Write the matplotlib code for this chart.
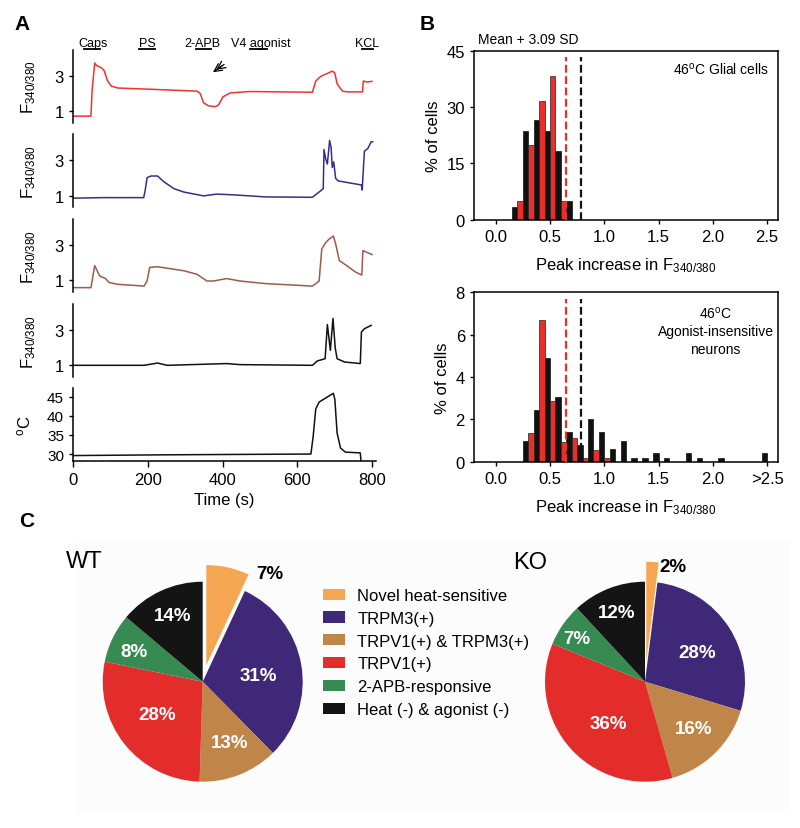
import matplotlib
matplotlib.use("Agg")
import matplotlib.pyplot as plt
from matplotlib.patches import Patch, Rectangle
import numpy as np

plt.rcParams['font.family'] = ['Liberation Sans', 'DejaVu Sans']
plt.rcParams['mathtext.default'] = 'regular'
plt.rcParams['axes.linewidth'] = 1.1

# ---- Panel A: example traces (time in s, value)
red_t = [1, 48, 51, 58, 63, 76, 83, 92, 102, 120, 208, 332, 340, 349, 362, 380, 389, 401, 420, 473,
         640, 649, 662, 684, 693, 700, 706, 720, 733, 774, 776, 786, 799]
red_f = [0.72, 0.72, 2.2, 3.74, 3.60, 3.47, 3.32, 2.75, 2.43, 2.32, 2.25, 2.14, 2.01, 1.48, 1.31, 1.26,
         1.35, 1.82, 2.04, 2.12, 2.08, 2.72, 2.98, 3.19, 3.28, 3.17, 2.56, 2.15, 2.10, 2.10, 2.72, 2.66, 2.70]

blue_t = [1, 76, 189, 193, 198, 208, 226, 243, 270, 296, 349, 384, 428, 516, 640, 658, 669, 671, 676,
          680, 686, 690, 693, 697, 702, 709, 720, 771, 773, 779, 788, 797, 801]
blue_f = [0.85, 0.88, 0.88, 1.3, 2.01, 2.11, 2.11, 1.78, 1.39, 1.20, 0.98, 1.08, 1.04, 0.92, 0.90, 1.20,
          1.39, 3.62, 3.04, 2.79, 4.14, 3.71, 2.60, 2.91, 1.98, 1.83, 1.79, 1.60, 1.31, 3.52, 3.67, 4.06, 4.06]

brown_t = [1, 48, 58, 71, 80, 86, 97, 120, 190, 198, 205, 226, 296, 331, 358, 375, 411, 446, 516, 640,
           658, 665, 675, 684, 696, 702, 712, 732, 754, 772, 775, 785, 799]
brown_f = [0.58, 0.58, 1.84, 1.26, 1.16, 1.12, 0.87, 0.77, 0.67, 0.96, 1.74, 1.78, 1.55, 1.35, 0.96, 0.96,
           1.10, 0.96, 0.81, 0.67, 0.96, 2.80, 3.15, 3.35, 3.54, 3.10, 2.13, 1.84, 1.49, 1.30, 2.71, 2.61, 2.48]

black_t = [1, 190, 226, 252, 411, 446, 640, 653, 674, 680, 688, 695, 701, 706, 726, 768, 771, 779, 797]
black_f = [1.0, 1.0, 1.13, 1.0, 1.10, 1.04, 1.0, 1.25, 1.38, 3.34, 1.86, 3.69, 2.0, 1.38, 1.19, 1.10,
           2.91, 3.10, 3.29]

temp_t = [1, 252, 636, 642, 649, 658, 696, 700, 706, 715, 728, 768, 771]
temp_c = [29.6, 29.8, 30.0, 34.6, 41.8, 43.6, 45.9, 44.3, 35.5, 31.6, 30.5, 30.3, 27.0]

stim_names = ["Caps", "PS", "2-APB", "V4 agonist", "KCL"]
stim_start = [30, 176, 328, 474, 773]
stim_end = [72, 220, 368, 518, 802]
stim_text_x = [53, 198, 346, 503, 785]

# ---- Panel B: histograms (% of cells), bin centres
glia_bins = [0.2, 0.3, 0.4, 0.5, 0.6, 0.7]
glia_black = [3.3, 23.5, 26.5, 23.5, 18.3, 5.0]
glia_red = [5.0, 20.0, 31.7, 38.3, 5.0, 0.0]

neur_bins = [0.3, 0.4, 0.5, 0.6, 0.7, 0.8, 0.9, 1.0, 1.1, 1.2, 1.3, 1.4, 1.5, 1.6, 1.7, 1.8, 1.9, 2.0,
             2.1, 2.2, 2.3, 2.4, 2.5]
neur_black = [1.0, 2.44, 4.88, 3.07, 1.42, 0.79, 2.02, 1.42, 0.6, 1.0, 0.19, 0.19, 0.41, 0.19, 0, 0.41,
              0.19, 0, 0.19, 0, 0, 0, 0.41]
neur_red = [1.34, 6.69, 2.85, 0.94, 1.12, 0.16, 0.57, 0.16, 0, 0, 0, 0, 0, 0, 0, 0, 0, 0, 0, 0, 0, 0, 0]
thr_red = 0.65
thr_black = 0.79

# ---- Panel C: pies
cat_labels = ["Novel heat-sensitive", "TRPM3(+)", "TRPV1(+) & TRPM3(+)", "TRPV1(+)",
              "2-APB-responsive", "Heat (-) & agonist (-)"]
wt_pct = [7, 31, 13, 28, 8, 14]
ko_pct = [2, 28, 16, 36, 7, 12]
pie_colors = ["#F5A653", "#3F2877", "#BF8549", "#E32D2A", "#378A52", "#141414"]

W, H = 800, 829
fig = plt.figure(figsize=(W / 100, H / 100), dpi=100)


def px_axes(left, top, right, bottom):
    return fig.add_axes([left / W, 1 - bottom / H, (right - left) / W, (bottom - top) / H])


# light background of panel C
fig.patches.append(Rectangle((75 / W, 1 - 815 / H), 715 / W, 275 / H, transform=fig.transFigure,
                             facecolor="#fcfcfc", edgecolor="none", zorder=-5))

# ================= Panel A
trace_rows = [(50.7, 124), (135, 208.3), (220.3, 293), (305.3, 378)]
traces = [(red_t, red_f, "#F2322F"), (blue_t, blue_f, "#3A2C8C"),
          (brown_t, brown_f, "#A05A4B"), (black_t, black_f, "#111111")]
trace_axes = []
for (top, bot), (tt, ff, col) in zip(trace_rows, traces):
    ax = px_axes(73, top, 376, bot)
    ax.plot(tt, ff, color=col, lw=1.1)
    ax.set_xlim(0, 810)
    ax.set_ylim(0.33, 4.5)
    ax.set_yticks([1, 3])
    ax.tick_params(axis='y', labelsize=12, length=3, width=1, direction='out')
    ax.set_xticks([])
    for s in ["top", "right", "bottom"]:
        ax.spines[s].set_visible(False)
    ax.set_ylabel("F$_{340/380}$", fontsize=12)
    ax.yaxis.set_label_coords(-0.115, 0.5)
    trace_axes.append(ax)

ax1 = trace_axes[0]
for name, s0, s1, tx in zip(stim_names, stim_start, stim_end, stim_text_x):
    ax1.plot([s0, s1], [1.01, 1.01], color="black", lw=1.3, transform=ax1.get_xaxis_transform(),
             clip_on=False)
    ax1.text(tx, 1.045, name, ha="center", va="baseline", fontsize=9,
             transform=ax1.get_xaxis_transform())
ax1.annotate("", xy=(368, 3.13), xytext=(410, 3.75),
             arrowprops=dict(arrowstyle="->", lw=0.9, color="black", mutation_scale=14))
ax1.annotate("", xy=(377, 3.27), xytext=(403, 3.66),
             arrowprops=dict(arrowstyle="->", lw=0.9, color="black", mutation_scale=14))

axT = px_axes(73, 389.3, 376, 462.3)
axT.plot(temp_t, temp_c, color="#111111", lw=1.1)
axT.set_xlim(0, 810)
axT.set_ylim(28.1, 47.2)
axT.set_yticks([30, 35, 40, 45])
axT.set_xticks([0, 200, 400, 600, 800])
axT.tick_params(axis='y', labelsize=11, length=3, width=1)
axT.tick_params(axis='x', labelsize=12, length=4, width=1)
for s in ["top", "right"]:
    axT.spines[s].set_visible(False)
axT.set_ylabel("$^{o}$C", fontsize=12)
axT.yaxis.set_label_coords(-0.13, 0.5)
axT.set_xlabel("Time (s)", fontsize=12, labelpad=4)

# ================= Panel B


def hist_panel(ax, bins, blk, red, ymax, yticks):
    b = np.array(bins)
    ax.bar(b - 0.025, blk, width=0.05, color="#111111", edgecolor="#111111", lw=0.5, zorder=2)
    ax.bar(b + 0.025, red, width=0.05, color="#E8302B", edgecolor="#222222", lw=0.5, zorder=2)
    ax.axvline(thr_red, ymax=0.96, color="#E8302B", lw=1.6, dashes=(3.5, 1.6), zorder=3)
    ax.axvline(thr_black, ymax=0.96, color="#111111", lw=1.6, dashes=(3.5, 1.6), zorder=3)
    ax.set_xlim(-0.2, 2.6)
    ax.set_ylim(0, ymax)
    ax.set_yticks(yticks)
    ax.set_xticks([0.0, 0.5, 1.0, 1.5, 2.0, 2.5])
    ax.tick_params(labelsize=12, length=3, width=1)
    ax.set_ylabel("% of cells", fontsize=12)
    ax.set_xlabel("Peak increase in F$_{340/380}$", fontsize=12, labelpad=8)


axB1 = px_axes(474, 51.7, 778, 220.7)
hist_panel(axB1, glia_bins, glia_black, glia_red, 45, [0, 15, 30, 45])
axB1.set_xticklabels(["0.0", "0.5", "1.0", "1.5", "2.0", "2.5"])
axB1.text(0.97, 0.94, "46$^{o}$C Glial cells", transform=axB1.transAxes, ha="right", va="top",
          fontsize=10)
axB1.text(0.18, 1.03, "Mean + 3.09 SD", transform=axB1.transAxes, ha="center", va="bottom",
          fontsize=10)

axB2 = px_axes(474, 293.3, 778, 462.7)
hist_panel(axB2, neur_bins, neur_black, neur_red, 8, [0, 2, 4, 6, 8])
axB2.set_xticklabels(["0.0", "0.5", "1.0", "1.5", "2.0", ">2.5"])
axB2.text(0.795, 0.93, "46$^{o}$C\nAgonist-insensitive\nneurons", transform=axB2.transAxes,
          ha="center", va="top", fontsize=10, linespacing=1.35)

# ================= Panel C
wt_lab_xy = [(0.67, 1.08), (0.56, 0.06), (0.27, -0.61), (-0.46, -0.33), (-0.69, 0.30), (-0.30, 0.66)]
ko_lab_xy = [(0.28, 1.15), (0.52, 0.29), (0.49, -0.47), (-0.37, -0.42), (-0.68, 0.43), (-0.28, 0.69)]


def pie_panel(cx, cy, pct, lab_xy, title, title_xy, expl):
    r = 100
    ax = px_axes(cx - 1.5 * r, cy - 1.5 * r, cx + 1.5 * r, cy + 1.5 * r)
    ax.patch.set_visible(False)
    wedges, _ = ax.pie(pct, colors=pie_colors, startangle=90, counterclock=False,
                       explode=[expl, 0, 0, 0, 0, 0], wedgeprops=dict(linewidth=0))
    ax.set_xlim(-1.5, 1.5)
    ax.set_ylim(-1.5, 1.5)
    ax.set_aspect("equal")
    ax.axis("off")
    for i, (p, (x, y)) in enumerate(zip(pct, lab_xy)):
        col = "black" if i == 0 else "white"
        ax.text(x, y, f"{p}%", ha="center", va="center", color=col, fontsize=13.5,
                fontweight="bold")
    fig.text(title_xy[0] / W, 1 - title_xy[1] / H, title, ha="left", va="center", fontsize=17)
    return wedges


wedges = pie_panel(202.7, 682.7, wt_pct, wt_lab_xy, "WT", (66, 562), 0.17)
pie_panel(645, 682.7, ko_pct, ko_lab_xy, "KO", (513, 563), 0.2)

handles = [Patch(facecolor=c, edgecolor="none") for c in pie_colors]
fig.legend(handles, cat_labels, loc="upper left", bbox_to_anchor=(323 / W, 1 - 589 / H),
           frameon=False, fontsize=12, handlelength=1.3, handleheight=0.65, handletextpad=0.75,
           labelspacing=0.47, borderpad=0, borderaxespad=0)

# panel letters
fig.text(22 / W, 1 - 25 / H, "A", fontsize=15, fontweight="bold", ha="center", va="center")
fig.text(427 / W, 1 - 25 / H, "B", fontsize=15, fontweight="bold", ha="center", va="center")
fig.text(27 / W, 1 - 522 / H, "C", fontsize=15, fontweight="bold", ha="center", va="center")

fig.savefig("out.png", dpi=100)
